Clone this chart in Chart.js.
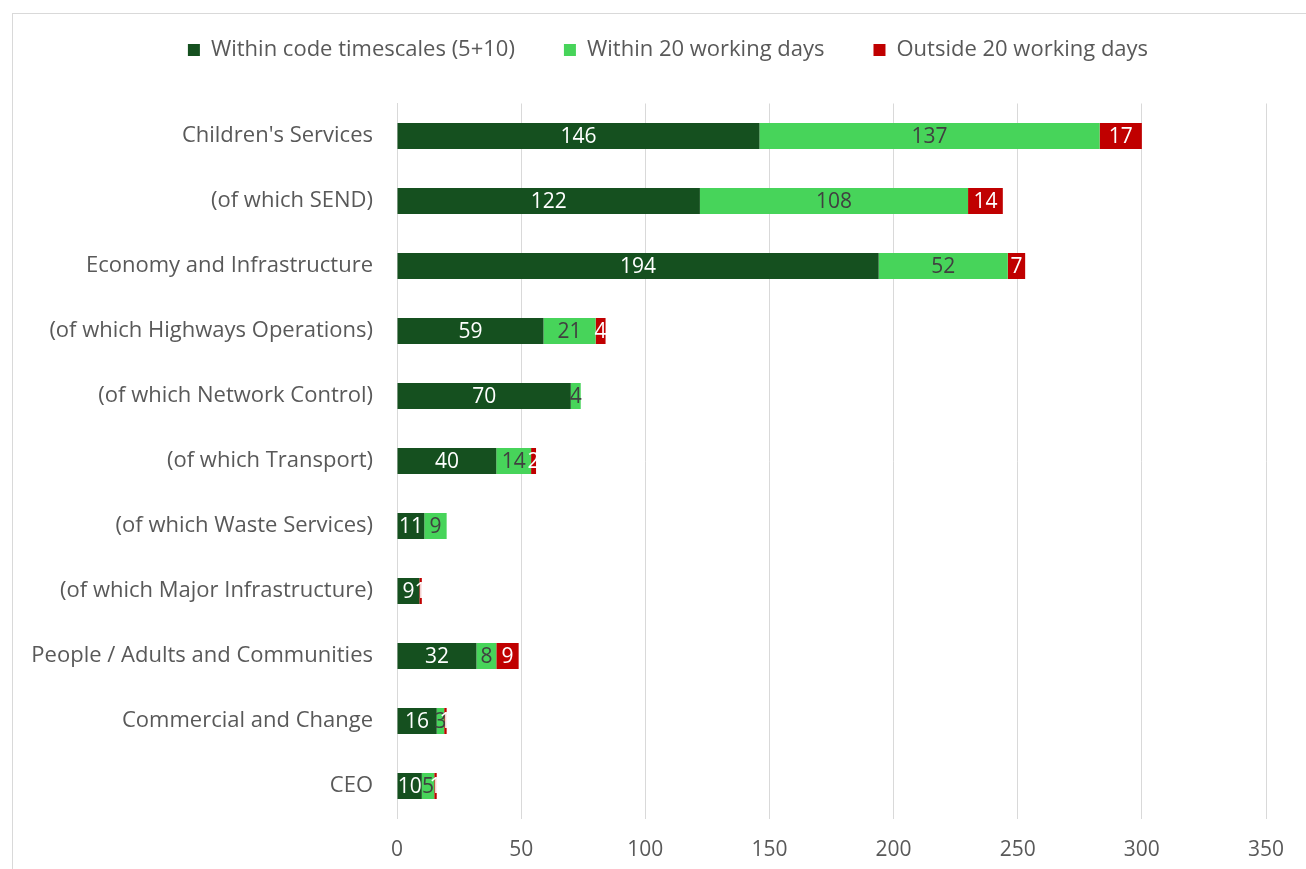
<!DOCTYPE html>
<html>
<head>
  <meta charset="UTF-8">
  <title>Complaints response times</title>
  <meta name="viewport" content="width=device-width, initial-scale=1">
  <script src="https://cdn.jsdelivr.net/npm/chart.js@4/dist/chart.umd.min.js"></script>
  <style>
    html, body { margin: 0; padding: 0; background: #fff; }
    #wrap { width: 1306px; height: 869px; position: relative; }
  </style>
</head>
<body>
<div id="wrap"><canvas id="myChart" width="1306" height="869"></canvas></div>

<script>
  // service areas, top to bottom
  var categories = [
    "Children's Services",
    "(of which SEND)",
    "Economy and Infrastructure",
    "(of which Highways Operations)",
    "(of which Network Control)",
    "(of which Transport)",
    "(of which Waste Services)",
    "(of which Major Infrastructure)",
    "People / Adults and Communities",
    "Commercial and Change",
    "CEO"
  ];
  var withinCode   = [146, 122, 194, 59, 70, 40, 11, 9, 32, 16, 10];
  var within20     = [137, 108, 52, 21, 4, 14, 9, 0, 8, 3, 5];
  var outside20    = [17, 14, 7, 4, 0, 2, 0, 1, 9, 1, 1];
  var seriesNames  = ["Within code timescales (5+10)", "Within 20 working days", "Outside 20 working days"];

  var FONT = "'Open Sans', 'Noto Sans', sans-serif";

  // light grey frame round the whole chart
  var framePlugin = {
    id: "frame",
    beforeDraw: function(chart) {
      var ctx = chart.ctx;
      ctx.save();
      ctx.fillStyle = "#ffffff";
      ctx.fillRect(0, 0, chart.width, chart.height);
      ctx.strokeStyle = "#d9d9d9";
      ctx.lineWidth = 1;
      ctx.strokeRect(12.5, 13.5, 1400, 1000);
      ctx.restore();
    }
  };

  // value labels in the middle of each segment
  var valueLabels = {
    id: "valueLabels",
    afterDatasetsDraw: function(chart) {
      var ctx = chart.ctx;
      ctx.save();
      ctx.font = "21px " + FONT;
      ctx.textAlign = "center";
      ctx.textBaseline = "middle";
      chart.data.datasets.forEach(function(ds, i) {
        var meta = chart.getDatasetMeta(i);
        meta.data.forEach(function(bar, j) {
          var v = ds.data[j];
          if (!v) return;
          var p = bar.getProps(["x", "y", "base"], true);
          ctx.fillStyle = ds.labelColor;
          ctx.fillText(String(v), (p.x + p.base) / 2, p.y + 1);
        });
      });
      ctx.restore();
    }
  };

  // legend takes the whole band above the plot, its row sits higher up
  var legendBand = {
    id: "legendBand",
    beforeInit: function(chart) {
      var lg = chart.legend;
      var fit = lg.fit;
      var draw = lg.draw;
      lg.fit = function() {
        fit.call(lg);
        this.height = 71.5;
      };
      lg.draw = function() {
        lg.ctx.save();
        lg.ctx.translate(35, -42);
        draw.call(lg);
        lg.ctx.restore();
      };
    }
  };

  new Chart(document.getElementById("myChart"), {
    type: "bar",
    data: {
      labels: categories,
      datasets: [
        { label: seriesNames[0], data: withinCode, backgroundColor: "#15501f", labelColor: "#ffffff" },
        { label: seriesNames[1], data: within20, backgroundColor: "#47d45a", labelColor: "#404040" },
        { label: seriesNames[2], data: outside20, backgroundColor: "#c00000", labelColor: "#ffffff" }
      ]
    },
    options: {
      indexAxis: "y",
      responsive: false,
      animation: false,
      datasets: { bar: { barPercentage: 0.4, categoryPercentage: 1.0, borderWidth: 0 } },
      layout: { padding: { top: 32, right: 40, left: 0, bottom: 0 } },
      scales: {
        x: {
          stacked: true,
          min: 0,
          max: 350,
          ticks: { stepSize: 50, color: "#595959", font: { family: FONT, size: 21 }, padding: 19 },
          grid: { color: "#d9d9d9", drawTicks: false },
          border: { display: false },
          afterFit: function(scale) { scale.height = 50.5; }
        },
        y: {
          stacked: true,
          ticks: { color: "#595959", font: { family: FONT, size: 22 }, padding: 24 },
          grid: { display: false, drawTicks: false },
          border: { display: true, color: "#d9d9d9" },
          afterFit: function(scale) { scale.width = 397; }
        }
      },
      plugins: {
        legend: {
          position: "top",
          labels: {
            boxWidth: 12,
            boxHeight: 12,
            color: "#595959",
            font: { family: FONT, size: 22 },
            padding: 49
          }
        },
        tooltip: { enabled: false }
      }
    },
    plugins: [framePlugin, valueLabels, legendBand]
  });
</script>
</body>
</html>
